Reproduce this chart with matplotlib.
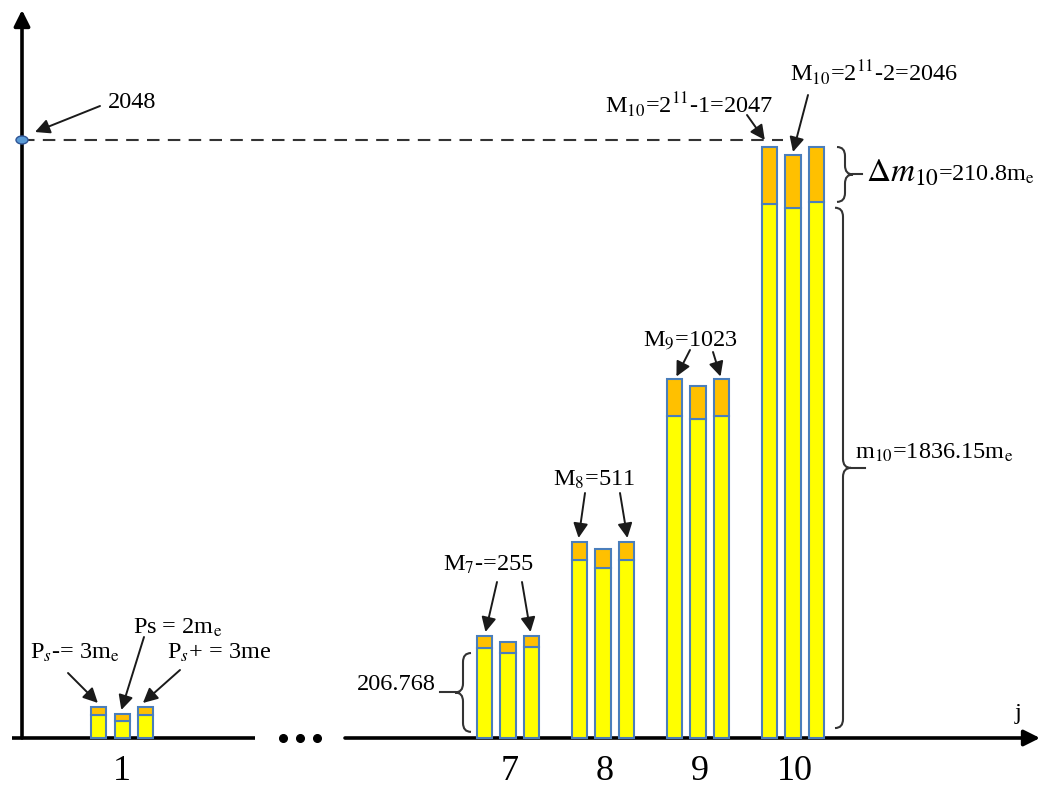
import numpy as np
import matplotlib
matplotlib.use("Agg")
import matplotlib.pyplot as plt
from matplotlib.path import Path
from matplotlib.patches import PathPatch, Ellipse

plt.rcParams["font.family"] = ["Liberation Serif", "DejaVu Serif"]
plt.rcParams["mathtext.fontset"] = "stix"

# ── data ────────────────────────────────────────────────────────────────
groups    = ["1", "7", "8", "9", "10"]
group_pos = [2.94, 7, 8, 9, 10]          # group 1 sits left of the axis break
total  = [[106, 82, 106], [349, 329, 349], [671, 647, 671],
          [1230, 1206, 1230], [2024, 1997, 2024]]
yellow = [[79, 58, 79], [308, 291, 312], [610, 582, 610],
          [1103, 1093, 1103], [1829, 1815, 1836]]
top_level = 2048

# ── pixel -> data helpers (layout only) ─────────────────────────────────
def ux(p):
    return 7 + (p - 508) / 95

def vy(p):
    return (738 - p) * 2048 / 598

fig = plt.figure(figsize=(10.42, 7.89), dpi=100)
ax = fig.add_axes([0, 0, 1, 1])
ax.set_xlim(ux(0), ux(1042))
ax.set_ylim(vy(789), vy(0))
ax.axis("off")

FS = 17.5
ink = "#1a1a1a"
arrow = dict(arrowstyle="-|>", color=ink, lw=1.4, mutation_scale=22,
             shrinkA=0, shrinkB=0)

# axes
x0 = ux(22)
ax.annotate("", xy=(x0, vy(10)), xytext=(x0, 0),
            arrowprops=dict(arrowstyle="-|>", color="black", lw=2.6,
                            mutation_scale=24, shrinkA=0, shrinkB=0), zorder=1)
ax.plot([ux(12), ux(255)], [0, 0], color="black", lw=2.6, zorder=1,
        solid_capstyle="butt")
ax.annotate("", xy=(ux(1040), 0), xytext=(ux(345), 0),
            arrowprops=dict(arrowstyle="-|>", color="black", lw=2.6,
                            mutation_scale=24, shrinkA=0, shrinkB=0), zorder=1)
ax.plot([ux(283), ux(300), ux(317)], [0, 0, 0], "o", color="black", ms=5.5)

# dashed level line + dot
ax.plot([x0, ux(783)], [top_level, top_level], color="#333333", lw=1.5,
        dashes=(6, 4))
ax.add_patch(Ellipse((x0, top_level), 12 / 95, 8 * 2048 / 598,
                     facecolor="#5B9BD5", edgecolor="#2F5597", lw=1, zorder=5))

# bars
width = 0.158
offs = np.array([-0.247, 0, 0.247])
for g, pos in enumerate(group_pos):
    xs = pos + offs
    y = np.array(yellow[g])
    t = np.array(total[g])
    ax.bar(xs, y, width, color="#FFFF00", edgecolor="#4A7EBB", lw=1.5, zorder=3)
    ax.bar(xs, t - y, width, bottom=y, color="#FFC000", edgecolor="#4A7EBB",
           lw=1.5, zorder=3)
    ax.text(pos + (0.02 if g else 0), vy(772), groups[g], fontsize=26,
            ha="center", va="center")

ax.text(ux(1018), vy(713), "j", fontsize=FS, ha="center", va="center")


def brace(x, y0, y1, side, w, r, tick_to):
    ym = (y0 + y1) / 2
    verts = [(x - side * w, y1), (x, y1), (x, y1 - r),
             (x, ym + r),
             (x, ym), (x + side * w, ym),
             (x, ym), (x, ym - r),
             (x, y0 + r),
             (x, y0), (x - side * w, y0)]
    codes = [Path.MOVETO, Path.CURVE3, Path.CURVE3, Path.LINETO,
             Path.CURVE3, Path.CURVE3, Path.CURVE3, Path.CURVE3,
             Path.LINETO, Path.CURVE3, Path.CURVE3]
    ax.add_patch(PathPatch(Path(verts, codes), facecolor="none",
                           edgecolor="#333333", lw=1.5))
    ax.plot([x + side * w, tick_to], [ym, ym], color="#333333", lw=1.5)


bw, br = 8 / 95, 9 * 2048 / 598
brace(ux(845), yellow[4][2], total[4][2], 1, bw, br, ux(862))
brace(ux(843), 34, yellow[4][2] - 20, 1, bw, br, ux(865))
brace(ux(463), 21, yellow[1][1], -1, bw, br, ux(440))

# labels and arrows
ax.text(ux(108), vy(103), "2048", fontsize=FS, ha="left", va="center")
ax.annotate("", xy=(ux(35), vy(132)), xytext=(ux(100), vy(106)),
            arrowprops=arrow)

p = group_pos[0] + offs
ax.text(ux(30), vy(653), r"P$_s$-= 3m$_\mathrm{e}$", fontsize=FS,
        ha="left", va="center")
ax.annotate("", xy=(p[0] - 0.01, total[0][0] + 14), xytext=(ux(68), vy(673)),
            arrowprops=arrow)
ax.text(ux(133), vy(628), r"Ps = 2m$_\mathrm{e}$", fontsize=FS,
        ha="left", va="center")
ax.annotate("", xy=(p[1] - 0.01, total[0][1] + 14), xytext=(ux(144), vy(637)),
            arrowprops=arrow)
ax.text(ux(167), vy(653), r"P$_s$+ = 3me", fontsize=FS, ha="left", va="center")
ax.annotate("", xy=(p[2] - 0.03, total[0][2] + 14), xytext=(ux(180), vy(670)),
            arrowprops=arrow)

p = group_pos[1] + offs
ax.text(ux(443), vy(565), r"M$_7$-=255", fontsize=FS, ha="left", va="center")
ax.annotate("", xy=(p[0] + 0.01, total[1][0] + 14), xytext=(ux(497), vy(582)),
            arrowprops=arrow)
ax.annotate("", xy=(p[2] - 0.01, total[1][2] + 14), xytext=(ux(522), vy(582)),
            arrowprops=arrow)

p = group_pos[2] + offs
ax.text(ux(553), vy(480), r"M$_8$=511", fontsize=FS, ha="left", va="center")
ax.annotate("", xy=(p[0] - 0.01, total[2][0] + 14), xytext=(ux(585), vy(493)),
            arrowprops=arrow)
ax.annotate("", xy=(p[2] + 0.01, total[2][2] + 14), xytext=(ux(620), vy(493)),
            arrowprops=arrow)

p = group_pos[3] + offs
ax.text(ux(643), vy(340), r"M$_9$=1023", fontsize=FS, ha="left", va="center")
ax.annotate("", xy=(p[0] + 0.02, total[3][0] + 8), xytext=(ux(690), vy(350)),
            arrowprops=arrow)
ax.annotate("", xy=(p[2] - 0.01, total[3][2] + 8), xytext=(ux(713), vy(352)),
            arrowprops=arrow)

p = group_pos[4] + offs
ax.text(ux(605), vy(105), r"M$_{10}$=2$^{11}$-1=2047", fontsize=FS,
        ha="left", va="center")
ax.annotate("", xy=(p[0] - 0.05, total[4][0] + 24), xytext=(ux(747), vy(115)),
            arrowprops=arrow)
ax.text(ux(790), vy(73), r"M$_{10}$=2$^{11}$-2=2046", fontsize=FS,
        ha="left", va="center")
ax.annotate("", xy=(p[1], total[4][1] + 10), xytext=(ux(808), vy(95)),
            arrowprops=arrow)

ax.text(ux(866), vy(181), r"$\Delta m_{10}$", fontsize=24, ha="left",
        va="baseline")
ax.text(ux(938), vy(181), r"=210.8m$_\mathrm{e}$", fontsize=FS, ha="left",
        va="baseline")
ax.text(ux(855), vy(453), r"m$_{10}$=1836.15m$_\mathrm{e}$", fontsize=FS,
        ha="left", va="center")
ax.text(ux(357), vy(685), "206.768", fontsize=FS, ha="left", va="center")

fig.savefig("out.png", dpi=100)
